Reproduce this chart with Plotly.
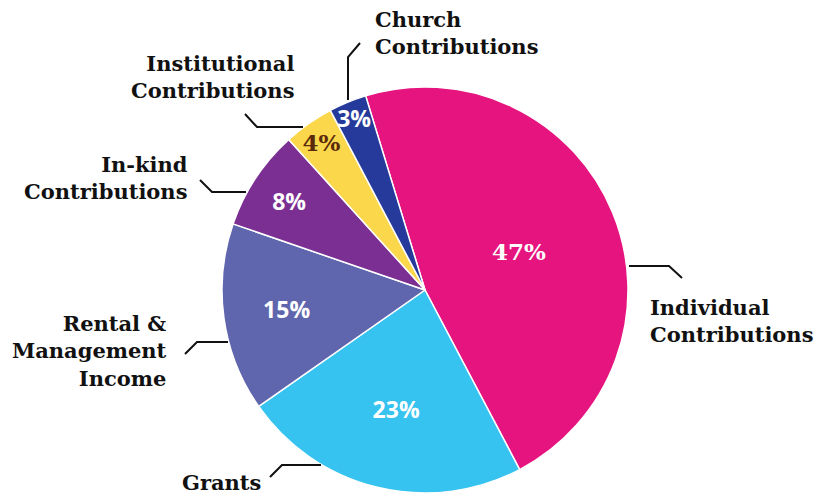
import plotly.graph_objects as go

labels = ["Individual Contributions", "Grants", "Rental & Management Income",
          "In-kind Contributions", "Institutional Contributions", "Church Contributions"]
values = [47, 23, 15, 8, 4, 3]
colors = ["#E5147E", "#36C3F0", "#6066AE", "#7B2F93", "#FAD74B", "#253A9A"]
text_colors = ["white", "white", "white", "white", "#5A2A0A", "white"]
text_fonts = ["DejaVu Serif", "Open Sans", "Open Sans", "Open Sans", "DejaVu Serif", "Open Sans"]

W, H = 815, 495
cx, cy, R = 425, 290, 203

fig = go.Figure(go.Pie(
    labels=labels, values=values, sort=False, direction="clockwise",
    rotation=-17,
    marker=dict(colors=colors, line=dict(color="white", width=1.5)),
    texttemplate="<b>%{value}%</b>", textposition="inside",
    insidetextorientation="horizontal",
    textfont=dict(color=text_colors, family=text_fonts, size=23),
    showlegend=False, hoverinfo="label+percent",
    domain=dict(x=[(cx - R) / W, (cx + R) / W], y=[1 - (cy + R) / H, 1 - (cy - R) / H]),
))

def px(x):
    return x / W

def py(y):
    return 1 - y / H

# label annotations: (text, x, y, anchor)
ann = [
    ("Church<br>Contributions", 373, 33, "left"),
    ("Institutional<br>Contributions", 296, 77, "right"),
    ("In-kind<br>Contributions", 190, 178, "right"),
    ("Rental &<br>Management<br>Income", 169, 351, "right"),
    ("Grants", 180, 482, "left"),
    ("Individual<br>Contributions", 648, 321, "left"),
]
annotations = []
for t, x, y, a in ann:
    annotations.append(dict(
        text="<b>" + t + "</b>", x=px(x), y=py(y), xref="paper", yref="paper",
        xanchor=a, yanchor="middle", align=a, showarrow=False,
        font=dict(family="DejaVu Serif", size=21, color="#111111"),
    ))

leaders = [
    [(348, 100), (348, 57), (360, 43)],
    [(303, 127), (257, 127), (245, 114)],
    [(246, 192), (212, 192), (200, 180)],
    [(228, 342), (197, 342), (185, 354)],
    [(321, 465), (282, 465), (270, 477)],
    [(629, 266), (669, 266), (682, 278)],
]
shapes = []
for pts in leaders:
    path = "M " + " L ".join(f"{px(x):.5f},{py(y):.5f}" for x, y in pts)
    shapes.append(dict(type="path", path=path, xref="paper", yref="paper",
                       line=dict(color="#111111", width=2)))

fig.update_layout(
    width=W, height=H, margin=dict(l=0, r=0, t=0, b=0),
    paper_bgcolor="white", plot_bgcolor="white",
    annotations=annotations, shapes=shapes,
    uniformtext=dict(minsize=23, mode="show"),
)
fig.write_html("out.html")
